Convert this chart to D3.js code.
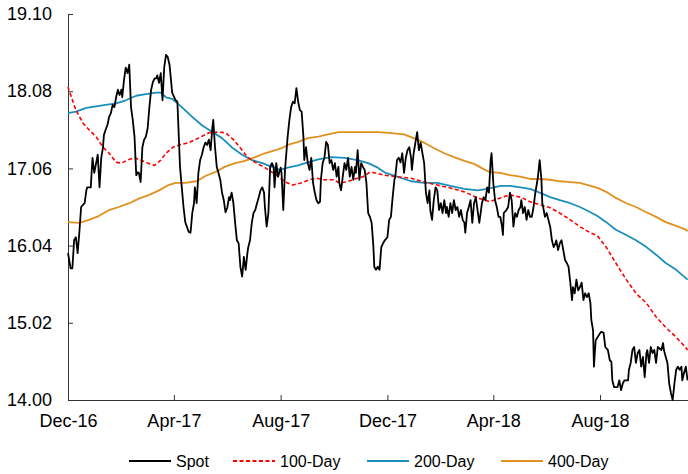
<!DOCTYPE html>
<html>
<head>
  <script src="https://d3js.org/d3.v7.min.js"></script>
  <style>
    body { margin: 0; background: #fff; }
    text { font-family: "Liberation Sans", Arial, sans-serif; fill: #000; }
  </style>
</head>
<body>
  <div id="chart"></div>
  <script>
    // day offsets are counted from 1 Dec 2016
    const startDay = "2016-12-01";
    const lastDay = 708.5;

    const spot = [
      [0,15.94],[3,15.74],[5,15.74],[7,16.11],[9,16.15],[11,15.94],[13,16.22],[15,16.55],[19,16.60],[21,16.77],
      [22,16.81],[26,16.81],[28,17.20],[30,17.00],[34,17.24],[36,16.81],[38,17.20],[40,17.34],[41,17.50],[43,17.57],
      [45,17.63],[47,17.74],[49,17.79],[51,17.90],[53,17.87],[55,18.00],[57,18.10],[59,18.03],[61,18.10],[62,18.00],
      [64,18.23],[66,18.39],[68,18.32],[70,18.43],[72,17.87],[74,17.70],[76,17.48],[78,16.97],[80,17.01],[81,17.00],
      [83,16.88],[85,17.34],[87,17.44],[89,17.48],[91,17.59],[93,17.87],[95,18.10],[97,18.20],[99,18.25],[101,18.25],
      [102,18.29],[104,18.19],[106,18.32],[108,17.96],[110,18.40],[112,18.56],[114,18.53],[116,18.43],[118,18.19],
      [119,18.06],[123,17.96],[125,17.94],[128,17.08],[132,16.55],[134,16.35],[138,16.22],[140,16.21],[142,16.47],
      [144,16.60],[145,16.81],[147,16.60],[149,17.00],[151,17.17],[153,17.24],[155,17.34],[157,17.40],[159,17.37],
      [161,17.44],[163,17.30],[165,17.61],[166,17.70],[168,17.34],[170,17.08],[172,17.00],[174,16.91],[176,16.74],
      [178,16.64],[180,16.48],[182,16.54],[184,16.68],[185,16.64],[187,16.74],[189,16.60],[191,16.34],[193,16.11],
      [195,16.07],[197,15.76],[199,15.63],[201,15.89],[203,15.72],[205,15.94],[206,16.02],[208,16.11],[210,16.34],
      [212,16.47],[214,16.51],[216,16.60],[218,16.68],[220,16.77],[222,16.81],[224,16.74],[225,16.55],[227,16.29],
      [229,16.47],[231,17.08],[233,17.13],[235,17.08],[236,16.81],[238,17.13],[240,16.95],[243,17.07],
      [244,17.00],[246,16.51],[248,17.04],[251,17.48],[253,17.70],[255,17.87],[257,17.94],[259,17.92],[261,18.12],
      [263,17.94],[265,17.83],[267,17.81],[269,17.48],[270,17.17],[272,17.34],[274,17.13],[276,17.04],[278,17.20],
      [280,16.87],[282,16.74],[284,16.64],[286,16.60],[288,16.62],[289,16.91],[291,17.13],[293,17.20],[295,17.41],
      [297,17.37],[299,17.13],[301,17.17],[303,17.04],[305,17.13],[307,16.95],[309,17.08],[310,16.87],[312,16.77],
      [314,16.95],[316,17.13],[318,17.04],[320,17.20],[322,16.95],[324,17.08],[326,16.91],[328,17.08],[329,17.00],
      [331,17.30],[333,16.91],[335,17.13],[337,17.08],[339,17.04],[341,16.87],[343,16.47],[345,16.42],[347,16.34],
      [349,16.02],[350,15.76],[352,15.72],[354,15.76],[356,15.72],[358,16.02],[360,16.07],[362,16.11],
      [365,16.15],[367,16.38],[369,16.42],[371,16.68],[373,16.91],[374,16.95],[376,17.17],[378,17.20],[380,17.14],
      [382,17.26],[384,17.00],[386,17.20],[388,17.30],[390,17.34],[392,17.20],[393,17.04],[395,17.26],[397,17.40],
      [399,17.54],[401,17.30],[403,17.40],[405,17.26],[407,17.13],[409,16.74],[411,16.60],[413,16.77],[414,16.51],
      [416,16.38],[418,16.64],[420,16.81],[422,16.77],[424,16.51],[426,16.60],[428,16.47],[430,16.64],[432,16.47],
      [433,16.55],[435,16.42],[437,16.60],[439,16.47],[441,16.64],[443,16.51],[445,16.55],[447,16.42],[449,16.51],
      [451,16.38],[453,16.34],[454,16.21],[456,16.47],[458,16.55],[460,16.64],[462,16.34],[464,16.60],[466,16.68],
      [468,16.51],[470,16.34],[472,16.51],[473,16.60],[475,16.68],[477,16.64],[479,16.81],[481,16.74],[483,17.17],
      [484,17.26],[486,16.87],[488,16.64],[490,16.55],[492,16.42],[494,16.42],[496,16.29],[497,16.18],[498,16.47],
      [501,16.51],[503,16.55],[505,16.74],[507,16.64],[509,16.29],[511,16.47],[513,16.42],[515,16.51],[517,16.55],
      [518,16.64],[520,16.47],[522,16.55],[524,16.38],[526,16.51],[528,16.42],[530,16.42],[532,16.55],[534,16.74],
      [536,16.87],[537,16.95],[539,17.17],[541,16.91],[542,16.60],[543,16.55],[545,16.42],[547,16.47],[549,16.38],
      [551,16.29],[553,16.11],[555,16.02],[557,16.07],[558,16.11],[560,15.98],[562,16.07],[564,16.11],[566,15.98],
      [568,15.85],[570,15.81],[572,15.76],[574,15.55],[576,15.32],[577,15.49],[579,15.41],[581,15.59],[583,15.45],
      [585,15.49],[587,15.55],[589,15.32],[591,15.41],[593,15.36],[595,15.41],[597,15.28],[598,15.06],[600,14.92],
      [601,14.44],[603,14.79],[609,14.90],[612,14.89],[614,14.70],[617,14.66],[619,14.53],[621,14.50],[622,14.26],
      [624,14.17],[628,14.17],[630,14.26],[632,14.13],[634,14.22],[636,14.26],[640,14.26],[641,14.40],[643,14.49],
      [645,14.66],[647,14.70],[649,14.49],[651,14.62],[653,14.66],[655,14.44],[657,14.57],[659,14.30],[661,14.62],
      [662,14.66],[664,14.49],[666,14.70],[668,14.62],[670,14.66],[672,14.49],[674,14.70],[678,14.66],[680,14.75],
      [681,14.66],[683,14.57],[685,14.49],[687,14.22],[689,14.09],[691,14.00],[693,14.22],[695,14.40],[697,14.44],
      [699,14.40],[701,14.44],[702,14.26],[704,14.36],[706,14.44],[708,14.26]
    ];

    const ma100 = [
      [0,18.14],[1,18.10],[9,17.83],[17,17.66],[24,17.57],[32,17.48],[40,17.34],[47,17.26],[55,17.14],[61,17.13],
      [68,17.17],[76,17.20],[83,17.17],[93,17.12],[99,17.10],[106,17.17],[112,17.26],[120,17.34],[127,17.37],
      [138,17.40],[149,17.46],[161,17.53],[172,17.54],[180,17.53],[189,17.44],[197,17.33],[205,17.21],[214,17.14],
      [225,17.07],[233,17.01],[240,16.96],[248,16.88],[257,16.84],[267,16.87],[276,16.91],[284,16.93],[293,16.91],
      [303,16.91],[310,16.87],[318,16.88],[328,16.92],[337,16.95],[345,17.01],[352,17.00],[361,16.97],[376,16.95],
      [392,16.93],[407,16.88],[422,16.84],[437,16.80],[453,16.75],[468,16.67],[482,16.62],[494,16.67],[505,16.71],
      [517,16.68],[528,16.62],[539,16.58],[551,16.54],[562,16.47],[574,16.38],[585,16.29],[597,16.21],[605,16.17],
      [615,16.02],[626,15.81],[638,15.59],[649,15.41],[661,15.28],[672,15.10],[683,14.96],[695,14.83],[706,14.69],
      [708,14.66]
    ];

    const ma200 = [
      [0,17.79],[9,17.81],[21,17.86],[32,17.88],[43,17.90],[55,17.92],[66,17.96],[78,18.02],[89,18.04],[101,18.06],
      [106,18.06],[112,18.00],[119,17.98],[130,17.87],[142,17.74],[153,17.63],[165,17.54],[176,17.46],[187,17.34],
      [199,17.24],[210,17.17],[222,17.13],[233,17.08],[242,17.04],[251,17.07],[263,17.10],[274,17.14],[286,17.18],
      [301,17.21],[316,17.20],[331,17.17],[343,17.13],[354,17.07],[363,17.00],[376,16.95],[392,16.89],[407,16.87],
      [422,16.87],[437,16.83],[453,16.79],[468,16.77],[479,16.79],[487,16.81],[494,16.83],[505,16.83],[517,16.81],
      [528,16.79],[539,16.74],[551,16.68],[562,16.64],[574,16.60],[585,16.55],[597,16.48],[605,16.43],[615,16.35],
      [626,16.25],[638,16.18],[649,16.11],[661,16.02],[672,15.92],[683,15.81],[695,15.72],[706,15.61],[708,15.59]
    ];

    const ma400 = [
      [0,16.35],[13,16.34],[24,16.38],[35,16.43],[47,16.51],[58,16.55],[70,16.60],[81,16.66],[93,16.71],[104,16.77],
      [115,16.84],[123,16.87],[134,16.87],[147,16.89],[157,16.96],[168,17.01],[179,17.08],[191,17.13],[202,17.16],
      [214,17.21],[225,17.26],[237,17.30],[245,17.33],[251,17.37],[263,17.41],[274,17.46],[286,17.48],[297,17.51],
      [309,17.54],[320,17.54],[331,17.54],[343,17.54],[354,17.54],[366,17.53],[384,17.51],[395,17.46],[407,17.40],
      [418,17.33],[430,17.26],[441,17.21],[453,17.16],[464,17.12],[475,17.05],[482,17.01],[494,17.00],[505,16.97],
      [517,16.95],[528,16.92],[539,16.92],[551,16.91],[562,16.89],[574,16.88],[585,16.87],[597,16.83],[606,16.80],
      [615,16.75],[626,16.67],[638,16.60],[649,16.55],[661,16.48],[672,16.42],[683,16.35],[695,16.30],[706,16.25],
      [708,16.23]
    ];

    const yTicks = [14.00, 15.02, 16.04, 17.06, 18.08, 19.10];
    const xTicks = ["2016-12-01", "2017-04-01", "2017-08-01", "2017-12-01", "2018-04-01", "2018-08-01"];

    const seriesNames = ["Spot", "100-Day", "200-Day", "400-Day"];
    const seriesColors = ["#000000", "#ff0000", "#1a8fba", "#e0901e"];

    const width = 688, height = 474;
    const margin = { top: 14, right: 0, bottom: 74, left: 68 };

    const parse = d3.timeParse("%Y-%m-%d");
    const start = parse(startDay);
    const toDate = d => new Date(start.getTime() + d * 864e5);

    const svg = d3.select("#chart").append("svg")
      .attr("width", width)
      .attr("height", height);

    const x = d3.scaleTime()
      .domain([start, toDate(lastDay)])
      .range([margin.left, width - margin.right]);

    const y = d3.scaleLinear()
      .domain([14, 19.1])
      .range([height - margin.bottom, margin.top]);

    // axes, ticks pointing into the plot
    const xAxis = svg.append("g")
      .attr("transform", `translate(0,${height - margin.bottom})`)
      .call(d3.axisBottom(x)
        .tickValues(xTicks.map(parse))
        .tickFormat(d3.timeFormat("%b-%y"))
        .tickSizeInner(-5)
        .tickSizeOuter(0)
        .tickPadding(14));

    const yAxis = svg.append("g")
      .attr("transform", `translate(${margin.left},0)`)
      .call(d3.axisLeft(y)
        .tickValues(yTicks)
        .tickFormat(d3.format(".2f"))
        .tickSizeInner(-5)
        .tickSizeOuter(0)
        .tickPadding(16));

    [xAxis, yAxis].forEach(g => {
      g.select(".domain").attr("stroke", "#333");
      g.selectAll(".tick line").attr("stroke", "#333");
      g.selectAll("text")
        .style("font-family", "'Liberation Sans', Arial, sans-serif")
        .style("font-size", "18px")
        .attr("fill", "#222");
    });

    const line = d3.line()
      .x(d => x(toDate(d[0])))
      .y(d => y(d[1]));

    const plot = [
      { data: ma400, color: seriesColors[3], dash: null, w: 1.8 },
      { data: ma200, color: seriesColors[2], dash: null, w: 1.8 },
      { data: ma100, color: seriesColors[1], dash: "4,2.5", w: 1.6 },
      { data: spot, color: seriesColors[0], dash: null, w: 1.8 }
    ];

    plot.forEach(s => {
      svg.append("path")
        .datum(s.data)
        .attr("fill", "none")
        .attr("stroke", s.color)
        .attr("stroke-width", s.w)
        .attr("stroke-linejoin", "round")
        .attr("stroke-dasharray", s.dash)
        .attr("d", line);
    });

    // legend
    const legendX = [129, 233, 367, 501];
    const legend = svg.append("g").attr("transform", "translate(0,461)");
    seriesNames.forEach((name, i) => {
      legend.append("line")
        .attr("x1", legendX[i]).attr("x2", legendX[i] + 42)
        .attr("stroke", seriesColors[i])
        .attr("stroke-width", 1.8)
        .attr("stroke-dasharray", i === 1 ? "4,2.5" : null);
      legend.append("text")
        .attr("x", legendX[i] + 47)
        .attr("dy", "0.35em")
        .style("font-size", "16px")
        .attr("fill", "#222")
        .text(name);
    });
  </script>
</body>
</html>
